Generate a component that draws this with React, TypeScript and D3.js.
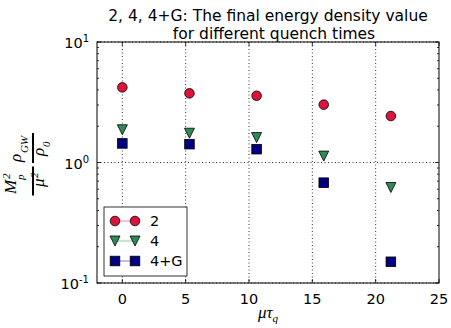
import React from 'react'
import { useEffect, useRef } from 'react'
import { select, scaleLinear, scaleLog, range } from 'd3'

// quench times
const tauQ = [0, 5.3, 10.6, 15.9, 21.2]
// final energy density for each series
const series2 = [4.2, 3.75, 3.58, 3.02, 2.43]
const series4 = [1.87, 1.75, 1.61, 1.13, 0.62]
const series4G = [1.44, 1.42, 1.29, 0.68, 0.15]
const seriesNames = ['2', '4', '4+G']
const xTicks = [0, 5, 10, 15, 20, 25]
const yExponents = [-1, 0, 1]

function App() {
  const svgRef = useRef<SVGSVGElement>(null)

  useEffect(() => {
    const width = 451
    const height = 328
    const left = 97, right = 439, top = 42, bottom = 283

    const svg = select(svgRef.current)
      .attr('width', width)
      .attr('height', height)
    svg.selectAll('*').remove()

    const x = scaleLinear().domain([-2, 25]).range([left, right])
    const y = scaleLog().domain([0.1, 10]).range([bottom, top])

    const font = 'DejaVu Sans, sans-serif'
    const serif = 'Liberation Serif, serif'

    // grid
    const grid = svg.append('g').attr('stroke', '#000').attr('stroke-width', 0.8)
      .attr('stroke-dasharray', '1,2.5')
    xTicks.filter((t) => t > -2 && t < 25).forEach((t) => {
      grid.append('line').attr('x1', x(t)).attr('x2', x(t)).attr('y1', top).attr('y2', bottom)
    })
    yExponents.forEach((e) => {
      grid.append('line').attr('x1', left).attr('x2', right).attr('y1', y(10 ** e)).attr('y2', y(10 ** e))
    })

    // ticks
    const ticks = svg.append('g').attr('stroke', '#000').attr('stroke-width', 0.8)
    xTicks.forEach((t) => {
      ticks.append('line').attr('x1', x(t)).attr('x2', x(t)).attr('y1', bottom).attr('y2', bottom - 4)
      ticks.append('line').attr('x1', x(t)).attr('x2', x(t)).attr('y1', top).attr('y2', top + 4)
    })
    yExponents.forEach((e) => {
      ticks.append('line').attr('x1', left).attr('x2', left + 4).attr('y1', y(10 ** e)).attr('y2', y(10 ** e))
      ticks.append('line').attr('x1', right).attr('x2', right - 4).attr('y1', y(10 ** e)).attr('y2', y(10 ** e))
    })
    ;[-1, 0].forEach((e) => {
      range(2, 10).forEach((m) => {
        const v = y(m * 10 ** e)
        ticks.append('line').attr('x1', left).attr('x2', left + 2).attr('y1', v).attr('y2', v)
        ticks.append('line').attr('x1', right).attr('x2', right - 2).attr('y1', v).attr('y2', v)
      })
    })

    // frame
    svg.append('rect').attr('x', left).attr('y', top).attr('width', right - left).attr('height', bottom - top)
      .attr('fill', 'none').attr('stroke', '#000').attr('stroke-width', 1)

    // tick labels
    xTicks.forEach((t) => {
      svg.append('text').attr('x', x(t)).attr('y', 304).attr('text-anchor', 'middle')
        .attr('font-family', font).attr('font-size', 14.5).text(t)
    })
    yExponents.forEach((e) => {
      const tx = svg.append('text').attr('x', 89).attr('y', y(10 ** e) + 6).attr('text-anchor', 'end')
        .attr('font-family', font).attr('font-size', 14.5)
      tx.append('tspan').text('10')
      tx.append('tspan').attr('dy', -6).attr('font-size', 10).text(e)
    })

    // title, two lines
    svg.append('text').attr('x', 268).attr('y', 21).attr('font-family', font).attr('font-size', 15.5)
      .attr('text-anchor', 'middle').text('2, 4, 4+G: The final energy density value')
    svg.append('text').attr('x', 274).attr('y', 39).attr('font-family', font).attr('font-size', 15.5)
      .attr('text-anchor', 'middle').text('for different quench times')

    // x label
    const xl = svg.append('text').attr('x', 268).attr('y', 318).attr('text-anchor', 'middle')
      .attr('font-family', serif).attr('font-style', 'italic').attr('font-size', 17)
    xl.append('tspan').text('μτ')
    xl.append('tspan').attr('dy', 4).attr('font-size', 11).text('q')

    // y label: two fractions, rotated
    const yl = svg.append('g').attr('transform', 'translate(33,164) rotate(-90)')
      .attr('font-family', serif).attr('font-style', 'italic')
    const bar = (cx: number, w: number) => {
      yl.append('line').attr('x1', cx - w / 2).attr('x2', cx + w / 2).attr('y1', 0).attr('y2', 0)
        .attr('stroke', '#000').attr('stroke-width', 2)
    }
    bar(-17, 29)
    bar(16, 30)
    // M_p^2
    yl.append('text').attr('x', -30).attr('y', -17).attr('font-size', 17).text('M')
    yl.append('text').attr('x', -15).attr('y', -23).attr('font-size', 11).text('2')
    yl.append('text').attr('x', -16).attr('y', -9).attr('font-size', 11).text('p')
    // mu^2
    yl.append('text').attr('x', -23).attr('y', 11).attr('font-size', 17).text('μ')
    yl.append('text').attr('x', -14).attr('y', 5).attr('font-size', 11).text('2')
    // rho_GW
    yl.append('text').attr('x', 2).attr('y', -12).attr('font-size', 17).text('ρ')
    yl.append('text').attr('x', 11).attr('y', -5).attr('font-size', 11).text('GW')
    // rho_0
    yl.append('text').attr('x', 8).attr('y', 11).attr('font-size', 17).text('ρ')
    yl.append('text').attr('x', 17).attr('y', 17).attr('font-size', 11).text('0')

    // markers
    const data = [
      { name: seriesNames[0], values: series2, color: '#dc143c', shape: 'circle' },
      { name: seriesNames[1], values: series4, color: '#2e8b57', shape: 'tri' },
      { name: seriesNames[2], values: series4G, color: '#000080', shape: 'square' },
    ]
    const drawMarker = (g: any, shape: string, cx: number, cy: number, color: string) => {
      if (shape === 'circle') {
        g.append('circle').attr('cx', cx).attr('cy', cy).attr('r', 4.8)
          .attr('fill', color).attr('stroke', '#000').attr('stroke-width', 0.8)
      } else if (shape === 'tri') {
        const s = 5
        g.append('path').attr('d', `M${cx - s},${cy - s}L${cx + s},${cy - s}L${cx},${cy + s}Z`)
          .attr('fill', color).attr('stroke', '#000').attr('stroke-width', 0.8)
      } else {
        g.append('rect').attr('x', cx - 4.8).attr('y', cy - 4.8).attr('width', 9.6).attr('height', 9.6)
          .attr('fill', color).attr('stroke', '#000').attr('stroke-width', 0.8)
      }
    }
    const marks = svg.append('g')
    data.forEach((d) => {
      d.values.forEach((v, i) => drawMarker(marks, d.shape, x(tauQ[i]), y(v), d.color))
    })

    // legend
    const lg = svg.append('g')
    lg.append('rect').attr('x', 104).attr('y', 207).attr('width', 83).attr('height', 69)
      .attr('fill', '#fff').attr('stroke', '#000').attr('stroke-width', 0.8)
    data.forEach((d, i) => {
      const ly = 221 + i * 20
      lg.append('line').attr('x1', 115).attr('x2', 135).attr('y1', ly).attr('y2', ly)
        .attr('stroke', d.color).attr('stroke-opacity', 0.5).attr('stroke-width', 1)
      drawMarker(lg, d.shape, 115, ly, d.color)
      drawMarker(lg, d.shape, 135, ly, d.color)
      lg.append('text').attr('x', 150).attr('y', ly + 5).attr('font-family', font).attr('font-size', 14.5).text(d.name)
    })
  }, [])

  return (
    <div>
      <svg ref={svgRef} style={{ position: 'absolute', left: 0, top: 0, background: '#fff' }}></svg>
    </div>
  )
}

export default App
